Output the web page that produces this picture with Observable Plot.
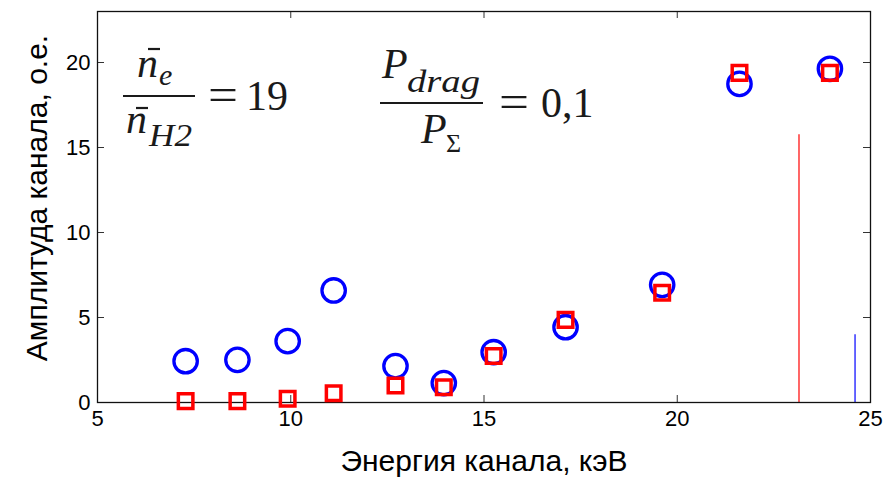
<!DOCTYPE html>
<html>
<head>
<meta charset="utf-8">
<script src="https://cdn.jsdelivr.net/npm/d3@7"></script>
<script src="https://cdn.jsdelivr.net/npm/@observablehq/plot@0.6"></script>
<style>
  html, body { margin: 0; padding: 0; background: #fff; }
  #chart { width: 893px; height: 477px; }
</style>
</head>
<body>
<div id="chart"></div>
<script>
// ---- data ----
const energy    = [7.28, 8.62, 9.92, 11.11, 12.71, 13.96, 15.25, 17.11, 19.61, 21.61, 23.95];
const ampCircle = [2.43, 2.51, 3.61, 6.59, 2.14, 1.14, 2.96, 4.43, 6.92, 18.74, 19.63];
const ampSquare = [0.08, 0.08, 0.22, 0.55, 1.00, 0.90, 2.74, 4.86, 6.45, 19.39, 19.39];
const lineX     = [23.15, 24.6];
const lineTop   = [15.75, 3.98];
const lineColor = ["#ff0000", "#0000ff"];
const xTicks = [5, 10, 15, 20, 25];
const yTicks = [0, 5, 10, 15, 20];
const xTitle = "Энергия канала, кэВ";
const yTitle = "Амплитуда канала, о.е.";

const circles = energy.map((e, i) => ({e, a: ampCircle[i]}));
const squares = energy.map((e, i) => ({e, a: ampSquare[i]}));
const lines = lineX.map((x, i) => ({x, top: lineTop[i], color: lineColor[i]}));

const W = 893, H = 477, mL = 97, mR = 23, mT = 11, mB = 75;
const pw = W - mL - mR, ph = H - mT - mB;
const tick = 7;

const chart = Plot.plot({
  width: W, height: H,
  marginLeft: mL, marginRight: mR, marginTop: mT, marginBottom: mB,
  style: {fontFamily: '"Liberation Sans", Arial, sans-serif', fontSize: "22px", color: "#000", background: "#fff", overflow: "visible"},
  x: {domain: [5, 25]},
  y: {domain: [0, 23]},
  color: {type: "identity"},
  marks: [
    Plot.ruleX(lines, {x: "x", y1: 0, y2: "top", stroke: "color", strokeWidth: 1.2}),
    Plot.tickX(xTicks.slice(1, -1), {x: d => d, insetTop: ph - tick, stroke: "#333"}),
    Plot.tickX(xTicks.slice(1, -1), {x: d => d, insetBottom: ph - tick, stroke: "#333"}),
    Plot.tickY(yTicks.slice(1), {y: d => d, insetRight: pw - tick, stroke: "#333"}),
    Plot.tickY(yTicks.slice(1), {y: d => d, insetLeft: pw - tick, stroke: "#333"}),
    Plot.frame({stroke: "#111", strokeWidth: 1.3}),
    Plot.axisX({ticks: xTicks, tickSize: 0, tickPadding: 8, fontSize: 22, label: null, tickFormat: d => String(d)}),
    Plot.axisY({ticks: yTicks, tickSize: 0, tickPadding: 7, fontSize: 22, label: null, tickFormat: d => String(d)}),
    Plot.text([xTitle], {frameAnchor: "bottom", text: d => d, dy: 59, lineAnchor: "middle", fontSize: 30, fill: "#000"}),
    Plot.dot(circles, {x: "e", y: "a", r: 11.7, stroke: "#0000ff", strokeWidth: 3.3, fill: "none"}),
    Plot.dot(squares, {x: "e", y: "a", symbol: "square", r: 8.2, stroke: "#ff0000", strokeWidth: 3.5, fill: "none"})
  ]
});
document.getElementById("chart").appendChild(chart);

const svg = d3.select(chart);
// y-axis title
svg.append("text")
  .attr("transform", "translate(36,198) rotate(-90)")
  .attr("text-anchor", "middle")
  .attr("dominant-baseline", "central")
  .attr("font-size", 30)
  .attr("fill", "#000")
  .text(yTitle);

// ---- formula annotations (text) ----
const g = svg.append("g")
  .attr("font-family", '"Liberation Serif", "DejaVu Serif", serif')
  .attr("text-anchor", "start")
  .attr("fill", "#1a1a1a");
function t(x, y, s, size, italic, len) {
  const e = g.append("text").attr("x", x).attr("y", y).attr("font-size", size)
    .attr("font-style", italic ? "italic" : "normal").text(s);
  if (len) e.attr("textLength", len).attr("lengthAdjust", "spacingAndGlyphs");
}
function bar(x1, x2, y, w) {
  g.append("line").attr("x1", x1).attr("x2", x2).attr("y1", y).attr("y2", y)
    .attr("stroke", "#1a1a1a").attr("stroke-width", w || 2.2);
}
// n_e / n_H2 = 19
t(137, 77, "n", 42, true); bar(148, 160, 49); t(159, 85, "e", 30, true);
bar(123, 195, 96);
t(126, 133, "n", 42, true); bar(136, 148, 108); t(149, 146, "H2", 31, true, 43);
t(208, 110, "=", 46, false, 30); t(246, 110, "19", 42, false);
// P_drag / P_Σ = 0,1
t(382, 78, "P", 42, true); t(407, 92, "drag", 31, true, 73);
bar(380, 483, 103);
t(421, 143, "P", 42, true); t(446, 152, "Σ", 26, false);
t(499, 117, "=", 46, false, 30); t(541, 117, "0,1", 42, false);
</script>
</body>
</html>
